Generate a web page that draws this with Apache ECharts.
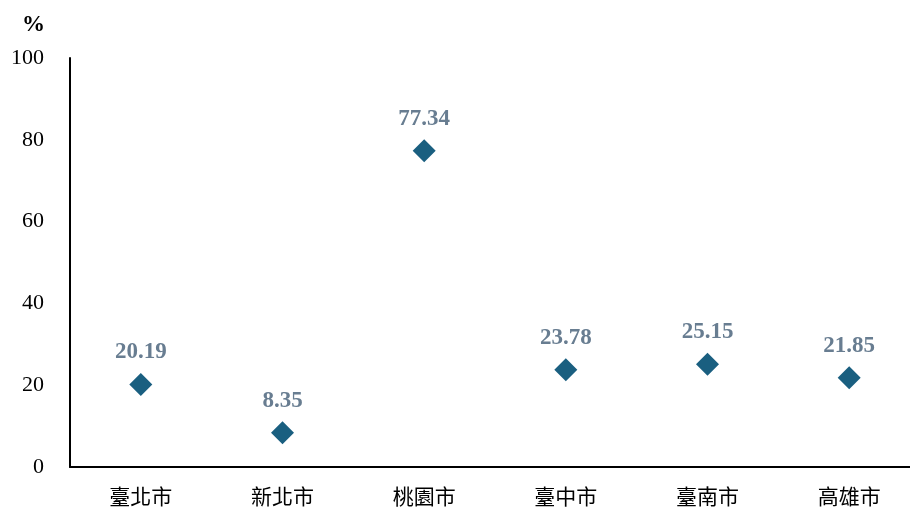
<!DOCTYPE html>
<html><head><meta charset="utf-8">
<script src="https://cdn.jsdelivr.net/npm/echarts@6/dist/echarts.min.js"></script>
<style>html,body{margin:0;padding:0;background:#fff}#c{width:910px;height:511px}</style>
</head><body><div id="c"></div>
<script>
const categories = ['臺北市','新北市','桃園市','臺中市','臺南市','高雄市'];
const values = [20.19, 8.35, 77.34, 23.78, 25.15, 21.85];
const yTicks = { min: 0, max: 100, interval: 20 };
const unitLabel = '%';

const chart = echarts.init(document.getElementById('c'), null, {renderer:'canvas'});
chart.setOption({
  animation: false,
  backgroundColor: '#fff',
  grid: { left: 70, top: 58, bottom: 44, width: 850, outerBoundsMode: 'none', containLabel: false },
  title: { text: unitLabel, left: 17, top: 9,
    textStyle: { fontFamily: 'Liberation Serif', fontWeight: 'bold', fontSize: 23, color: '#000' } },
  xAxis: {
    type: 'category', data: categories,
    axisLine: { lineStyle: { color: '#000', width: 2 } },
    axisTick: { show: false },
    axisLabel: { fontFamily: 'Noto Sans CJK TC', fontSize: 21, color: '#000', margin: 19 }
  },
  yAxis: {
    type: 'value', min: yTicks.min, max: yTicks.max, interval: yTicks.interval,
    axisLine: { show: true, lineStyle: { color: '#000', width: 2 } },
    axisTick: { show: false },
    splitLine: { show: false },
    axisLabel: { fontFamily: 'Liberation Serif', fontSize: 22, color: '#000', margin: 26 }
  },
  series: [{
    type: 'scatter', data: values,
    symbol: 'diamond', symbolSize: [23, 23],
    itemStyle: { color: '#1a5f80', opacity: 1 },
    label: { show: true, position: 'top', distance: 9,
      formatter: p => p.value.toFixed(2),
      fontFamily: 'Liberation Serif', fontWeight: 'bold', fontSize: 23, color: '#687d91' }
  }]
});
</script></body></html>
